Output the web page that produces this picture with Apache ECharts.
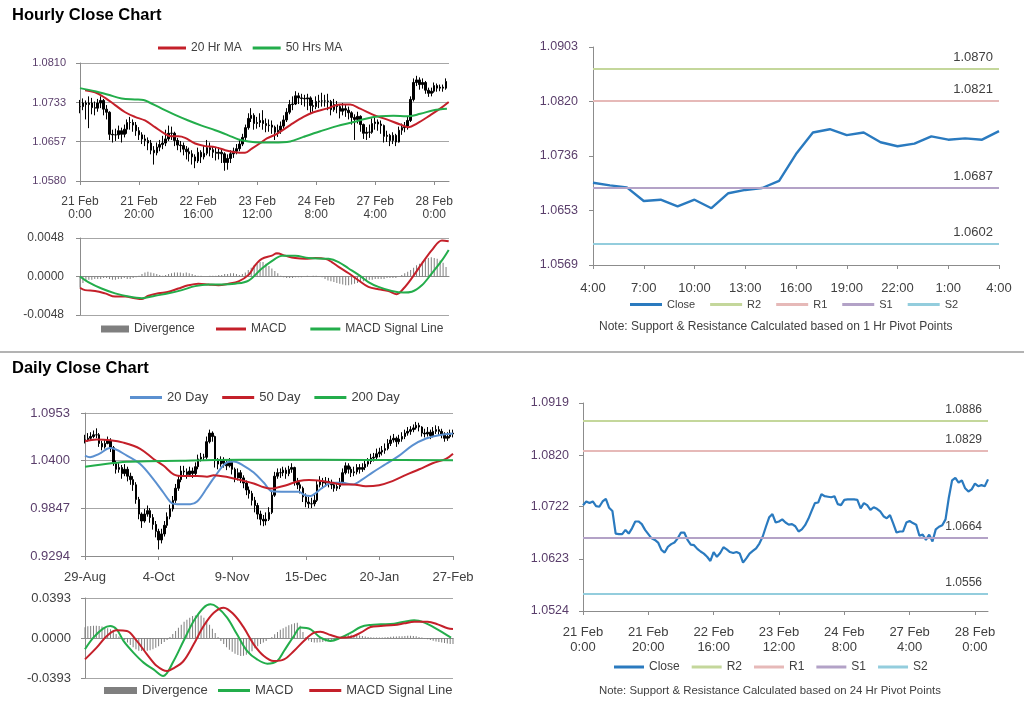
<!DOCTYPE html>
<html><head><meta charset="utf-8">
<script src="https://cdn.jsdelivr.net/npm/echarts@6/dist/echarts.min.js"></script>
<style>html,body{margin:0;padding:0;background:#fff}#c{width:1024px;height:706px}</style>
</head><body><div id="c"></div><script>
// ---------------- DATA ----------------
// Hourly (21 Feb 0:00 .. 28 Feb 4:00, trading hours), index = hour number
const hourTicks = ['21 Feb\n0:00','21 Feb\n20:00','22 Feb\n16:00','23 Feb\n12:00','24 Feb\n8:00','27 Feb\n4:00','28 Feb\n0:00'];
const hClose = [
1.0725,1.0732,1.0729,1.0732,1.0723,1.0722,1.0732,1.0737,1.0720,1.0714,
1.0671,1.0670,1.0670,1.0678,1.0671,1.0681,1.0694,1.0694,1.0689,1.0678,
1.0670,1.0662,1.0659,1.0654,1.0640,1.0635,1.0646,1.0651,1.0654,1.0662,
1.0673,1.0673,1.0659,1.0650,1.0649,1.0642,1.0637,1.0633,1.0627,1.0619,
1.0636,1.0627,1.0634,1.0645,1.0641,1.0636,1.0634,1.0636,1.0633,1.0616,
1.0624,1.0633,1.0638,1.0643,1.0652,1.0665,1.0684,1.0702,1.0708,1.0692,
1.0694,1.0698,1.0692,1.0688,1.0689,1.0685,1.0675,1.0679,1.0687,1.0699,
1.0714,1.0729,1.0730,1.0746,1.0742,1.0741,1.0740,1.0742,1.0727,1.0725,
1.0735,1.0736,1.0736,1.0736,1.0735,1.0719,1.0729,1.0725,1.0716,1.0721,
1.0718,1.0713,1.0704,1.0700,1.0706,1.0690,1.0673,1.0675,1.0675,1.0692,
1.0695,1.0691,1.0688,1.0667,1.0669,1.0659,1.0669,1.0656,1.0679,1.0684,
1.0687,1.0698,1.0739,1.0772,1.0777,1.0768,1.0772,1.0757,1.0751,1.0755,
1.0766,1.0761,1.0763,1.0761,1.0774];
const hHigh = [
1.0738,1.0741,1.0737,1.0745,1.0742,1.0735,1.0740,1.0745,1.0740,1.0728,
1.0716,1.0680,1.0682,1.0688,1.0684,1.0690,1.0700,1.0705,1.0700,1.0695,
1.0685,1.0675,1.0670,1.0665,1.0660,1.0648,1.0655,1.0660,1.0668,1.0680,
1.0688,1.0686,1.0676,1.0664,1.0658,1.0655,1.0648,1.0645,1.0640,1.0632,
1.0645,1.0640,1.0648,1.0660,1.0655,1.0648,1.0645,1.0646,1.0642,1.0636,
1.0632,1.0640,1.0645,1.0652,1.0660,1.0672,1.0690,1.0712,1.0722,1.0712,
1.0705,1.0712,1.0718,1.0702,1.0700,1.0698,1.0688,1.0690,1.0696,1.0708,
1.0722,1.0738,1.0745,1.0755,1.0752,1.0750,1.0748,1.0750,1.0745,1.0738,
1.0745,1.0748,1.0752,1.0748,1.0750,1.0738,1.0740,1.0736,1.0728,1.0732,
1.0728,1.0725,1.0716,1.0710,1.0715,1.0708,1.0692,1.0685,1.0690,1.0702,
1.0705,1.0700,1.0698,1.0690,1.0678,1.0672,1.0675,1.0672,1.0686,1.0692,
1.0695,1.0705,1.0745,1.0780,1.0785,1.0782,1.0780,1.0775,1.0762,1.0762,
1.0772,1.0770,1.0768,1.0768,1.0780];
const hLow = [
1.0712,1.0718,1.0700,1.0683,1.0710,1.0708,1.0715,1.0722,1.0708,1.0700,
1.0660,1.0655,1.0658,1.0662,1.0655,1.0665,1.0672,1.0680,1.0676,1.0668,
1.0660,1.0652,1.0648,1.0640,1.0632,1.0612,1.0630,1.0638,1.0642,1.0648,
1.0658,1.0660,1.0648,1.0640,1.0636,1.0630,1.0622,1.0618,1.0612,1.0605,
1.0615,1.0615,1.0622,1.0630,1.0628,1.0625,1.0620,1.0622,1.0615,1.0600,
1.0602,1.0615,1.0625,1.0632,1.0638,1.0648,1.0660,1.0680,1.0695,1.0680,
1.0682,1.0685,1.0680,1.0675,1.0676,1.0672,1.0660,1.0666,1.0672,1.0682,
1.0695,1.0710,1.0718,1.0728,1.0730,1.0728,1.0725,1.0718,1.0712,1.0715,
1.0720,1.0722,1.0725,1.0725,1.0718,1.0708,1.0715,1.0712,1.0702,1.0708,
1.0705,1.0700,1.0690,1.0660,1.0692,1.0676,1.0662,1.0660,1.0664,1.0672,
1.0680,1.0678,1.0672,1.0655,1.0656,1.0648,1.0652,1.0648,1.0655,1.0670,
1.0675,1.0680,1.0695,1.0735,1.0765,1.0758,1.0760,1.0750,1.0744,1.0745,
1.0752,1.0754,1.0755,1.0754,1.0758];
const ma20h = [[1.7,1.0757],[5.1,1.0753],[8.5,1.0742],[11.9,1.0728],[15.3,1.0714],[18.6,1.0705],[22,1.0698],[25.4,1.0685],[28.8,1.0672],[31,1.0667],[33.3,1.0667],[35.6,1.0664],[39,1.0653],[42.4,1.0648],[45.8,1.0646],[49.2,1.0640],[52.5,1.0636],[55.9,1.0635],[58.2,1.0643],[61.6,1.0656],[63.3,1.0663],[66.7,1.0672],[71.2,1.0689],[75.7,1.0705],[79.1,1.0714],[83.6,1.0721],[88.1,1.0729],[91.5,1.0729],[94.9,1.0721],[99.4,1.0709],[103.9,1.0700],[108.5,1.0690],[111.3,1.0685],[114.1,1.0692],[118.6,1.0708],[122,1.0721],[124.9,1.0734]];
const ma50h = [[0,1.0761],[5.1,1.0755],[9.6,1.0748],[14.1,1.0741],[18.6,1.0739],[21.5,1.0738],[23.2,1.0734],[27.7,1.0721],[32.2,1.0709],[36.7,1.0698],[41.2,1.0688],[45.8,1.0679],[50.3,1.0669],[53.7,1.0661],[57.1,1.0657],[61,1.0655],[65.5,1.0655],[71.2,1.0657],[75.7,1.0666],[81.4,1.0677],[87,1.0687],[92.7,1.0695],[97.2,1.0702],[101.7,1.0706],[106.2,1.0707],[110.7,1.0706],[115.3,1.0711],[119.8,1.0718],[124.3,1.0721]];
const hDiv = [
-0.0014,-0.0008,-0.0006,-0.0004,-0.0004,-0.0003,-0.0003,-0.0003,-0.0002,-0.0002,
-0.0003,-0.0004,-0.0004,-0.0003,-0.0003,-0.0002,-0.0003,-0.0003,-0.0002,-0.0001,
0.0001,0.0003,0.0005,0.0006,0.0005,0.0004,0.0003,0.0002,0.0001,0.0002,
0.0003,0.0004,0.0005,0.0005,0.0005,0.0004,0.0005,0.0004,0.0003,0.0002,
0.0001,0.0001,0.0000,0.0000,0.0001,0.0001,0.0001,0.0002,0.0002,0.0003,
0.0003,0.0004,0.0004,0.0003,0.0002,0.0003,0.0005,0.0008,0.0011,0.0014,
0.0016,0.0018,0.0018,0.0016,0.0013,0.0010,0.0007,0.0004,0.0001,-0.0001,
-0.0002,-0.0002,-0.0002,-0.0001,-0.0001,-0.0001,0.0000,0.0001,0.0000,0.0001,
0.0001,0.0000,-0.0001,-0.0003,-0.0005,-0.0006,-0.0007,-0.0008,-0.0009,-0.0010,
-0.0011,-0.0011,-0.0010,-0.0009,-0.0008,-0.0007,-0.0006,-0.0005,-0.0004,-0.0004,
-0.0003,-0.0003,-0.0003,-0.0003,-0.0002,-0.0002,-0.0002,-0.0002,0.0000,0.0002,
0.0004,0.0006,0.0008,0.0011,0.0014,0.0016,0.0019,0.0021,0.0023,0.0024,
0.0023,0.0022,0.0020,0.0017,0.0012];
const macdH = [[0,-0.0014],[1.7,-0.0017],[5.1,-0.0018],[8.5,-0.0021],[11.9,-0.0025],[15.3,-0.0025],[18.6,-0.0027],[21,-0.0028],[23.2,-0.0024],[26.6,-0.0021],[30,-0.0019],[33.3,-0.0015],[36.7,-0.0011],[40.1,-0.0009],[43.5,-0.0010],[46.9,-0.0011],[50.3,-0.0009],[53.7,-0.0006],[57.1,0.0002],[59.3,0.0014],[61.6,0.0022],[65,0.0026],[66.7,0.0029],[69.5,0.0026],[72.9,0.0023],[76.3,0.0022],[79.7,0.0023],[83.1,0.0022],[85.3,0.0018],[87.6,0.0012],[91,0.0004],[94.4,-0.0005],[97.7,-0.0013],[101.1,-0.0016],[104.5,-0.0018],[107.3,-0.0022],[109.6,-0.0015],[112.4,-0.0002],[115.8,0.0016],[119.2,0.0033],[122.6,0.0045],[124.9,0.0044]];
const sigH = [[0,0.0000],[2.8,-0.0007],[7.3,-0.0015],[11.9,-0.0021],[16.4,-0.0025],[21,-0.0027],[25.4,-0.0024],[30,-0.0021],[34.5,-0.0017],[39,-0.0012],[43.5,-0.0010],[48,-0.0010],[52.5,-0.0009],[57.1,-0.0005],[61.6,0.0010],[66.1,0.0022],[68.4,0.0026],[72.9,0.0026],[77.4,0.0023],[84.2,0.0022],[87.6,0.0018],[91,0.0010],[94.4,0.0002],[97.7,-0.0007],[101.1,-0.0013],[105.6,-0.0018],[109.6,-0.0020],[112.4,-0.0019],[115.8,-0.0011],[119.2,0.0004],[122.6,0.0020],[124.9,0.0033]];
// Last 24 hours (27 Feb 4:00 .. 28 Feb 4:00) = hourly index 100..124
const last24Start = 100;
const last24Ticks = ['4:00','7:00','10:00','13:00','16:00','19:00','22:00','1:00','4:00'];
const pivotNames = ['R2','R1','S1','S2'];
const pivot1h = [1.0870, 1.0821, 1.0687, 1.0602];
const pivot24h = [1.0886, 1.0829, 1.0664, 1.0556];
// y tick labels
const yHourly = ['1.0580','1.0657','1.0733','1.0810'];
const yMacdH = ['-0.0048','0.0000','0.0048'];
const yLast24 = ['1.0569','1.0653','1.0736','1.0820','1.0903'];
const yDaily = ['0.9294','0.9847','1.0400','1.0953'];
const yMacdD = ['-0.0393','0.0000','0.0393'];
const yHourlyBR = ['1.0524','1.0623','1.0722','1.0820','1.0919'];

// Daily (29-Aug .. 27-Feb, weekdays), index = trading day number
const dayTicks = ['29-Aug','4-Oct','9-Nov','15-Dec','20-Jan','27-Feb'];
const dClose = [
1.0640,1.0660,1.0680,1.0700,1.0700,1.0600,1.0560,1.0600,1.0630,1.0550,
1.0380,1.0300,1.0320,1.0250,1.0300,1.0220,1.0180,1.0120,0.9950,0.9780,
0.9700,0.9780,0.9820,0.9740,0.9660,0.9580,0.9480,0.9550,0.9650,0.9750,
0.9840,0.9940,1.0080,1.0180,1.0280,1.0270,1.0240,1.0280,1.0250,1.0330,
1.0420,1.0440,1.0440,1.0620,1.0720,1.0680,1.0400,1.0360,1.0400,1.0370,
1.0340,1.0380,1.0300,1.0200,1.0260,1.0200,1.0140,1.0060,1.0020,0.9940,
0.9880,0.9780,0.9720,0.9700,0.9720,0.9800,1.0000,1.0220,1.0260,1.0260,
1.0290,1.0250,1.0300,1.0320,1.0160,1.0120,1.0080,0.9980,0.9920,0.9900,
0.9900,0.9940,1.0120,1.0160,1.0140,1.0160,1.0140,1.0120,1.0080,1.0100,
1.0150,1.0260,1.0340,1.0300,1.0260,1.0270,1.0320,1.0300,1.0320,1.0360,
1.0390,1.0430,1.0440,1.0480,1.0500,1.0520,1.0540,1.0600,1.0640,1.0660,
1.0620,1.0650,1.0680,1.0720,1.0740,1.0760,1.0780,1.0810,1.0790,1.0720,
1.0710,1.0730,1.0690,1.0740,1.0760,1.0740,1.0710,1.0660,1.0680,1.0720,1.0710];
const dHigh = [
1.0700,1.0720,1.0730,1.0750,1.0775,1.0720,1.0630,1.0650,1.0680,1.0660,
1.0570,1.0400,1.0370,1.0350,1.0360,1.0330,1.0260,1.0220,1.0150,0.9980,
0.9800,0.9840,0.9880,0.9850,0.9780,0.9700,0.9610,0.9610,0.9700,0.9800,
0.9890,0.9990,1.0130,1.0230,1.0340,1.0340,1.0310,1.0330,1.0320,1.0380,
1.0470,1.0490,1.0480,1.0680,1.0760,1.0740,1.0690,1.0430,1.0450,1.0440,
1.0410,1.0430,1.0410,1.0320,1.0310,1.0290,1.0230,1.0170,1.0100,1.0050,
0.9980,0.9910,0.9820,0.9770,0.9800,0.9860,1.0050,1.0270,1.0310,1.0310,
1.0330,1.0320,1.0340,1.0370,1.0330,1.0200,1.0150,1.0100,1.0020,0.9980,
0.9970,1.0010,1.0170,1.0220,1.0200,1.0210,1.0200,1.0180,1.0150,1.0150,
1.0200,1.0310,1.0380,1.0370,1.0330,1.0330,1.0360,1.0360,1.0370,1.0400,
1.0430,1.0480,1.0490,1.0540,1.0550,1.0570,1.0600,1.0650,1.0690,1.0710,
1.0680,1.0700,1.0730,1.0760,1.0790,1.0800,1.0820,1.0850,1.0840,1.0800,
1.0770,1.0790,1.0760,1.0790,1.0810,1.0800,1.0770,1.0730,1.0730,1.0760,1.0760];
const dLow = [
1.0600,1.0620,1.0640,1.0660,1.0660,1.0560,1.0520,1.0540,1.0590,1.0500,
1.0340,1.0250,1.0260,1.0190,1.0220,1.0160,1.0120,1.0050,0.9900,0.9720,
0.9620,0.9680,0.9750,0.9680,0.9600,0.9510,0.9370,0.9440,0.9520,0.9620,
0.9720,0.9810,0.9910,1.0050,1.0150,1.0220,1.0190,1.0210,1.0200,1.0220,
1.0300,1.0390,1.0400,1.0420,1.0600,1.0620,1.0320,1.0300,1.0330,1.0320,
1.0290,1.0320,1.0240,1.0150,1.0170,1.0140,1.0080,1.0000,0.9960,0.9880,
0.9800,0.9720,0.9650,0.9640,0.9650,0.9700,0.9780,0.9980,1.0190,1.0200,
1.0220,1.0190,1.0220,1.0260,1.0110,1.0070,1.0020,0.9920,0.9860,0.9850,
0.9850,0.9870,0.9920,1.0090,1.0080,1.0100,1.0090,1.0070,1.0040,1.0050,
1.0070,1.0130,1.0240,1.0250,1.0210,1.0220,1.0240,1.0250,1.0270,1.0290,
1.0330,1.0360,1.0390,1.0410,1.0440,1.0460,1.0480,1.0520,1.0570,1.0610,
1.0560,1.0590,1.0620,1.0650,1.0690,1.0700,1.0730,1.0760,1.0740,1.0680,
1.0670,1.0680,1.0650,1.0670,1.0710,1.0700,1.0660,1.0620,1.0630,1.0660,1.0670];
const ma20d = [[0,1.0459],[1.8,1.0440],[5,1.0479],[8.9,1.0546],[14.8,1.0459],[19.5,1.0361],[24.2,1.0183],[27.8,1.0025],[30.7,0.9906],[32.5,0.9895],[37.2,0.9895],[39.6,0.9926],[43.1,1.0084],[46,1.0222],[50.2,1.0380],[52.5,1.0390],[56.1,1.0341],[59.6,1.0262],[63.2,1.0143],[66.1,1.0045],[70.8,1.0040],[75.6,1.0040],[77.3,1.0005],[79.7,0.9990],[81.5,1.0025],[83.8,1.0084],[87.4,1.0143],[90.9,1.0143],[94.5,1.0124],[98,1.0183],[101.5,1.0262],[106.3,1.0361],[111,1.0459],[115.7,1.0578],[120.5,1.0657],[125.1,1.0696],[130,1.0716]];
const ma50d = [[0,1.0625],[4.1,1.0645],[8.9,1.0637],[13.6,1.0609],[19.5,1.0538],[24.2,1.0420],[27.8,1.0341],[31.3,1.0242],[34.8,1.0222],[39.6,1.0222],[43.1,1.0214],[45.5,1.0230],[47.8,1.0222],[51.4,1.0203],[54.9,1.0175],[59.6,1.0135],[63.2,1.0092],[65.5,1.0078],[67.3,1.0084],[70.8,1.0112],[75.6,1.0163],[79.1,1.0175],[83.8,1.0163],[87.4,1.0143],[90.9,1.0124],[94.5,1.0124],[99.2,1.0104],[103.9,1.0116],[108.6,1.0163],[113.4,1.0235],[118.1,1.0300],[122.8,1.0370],[127.5,1.0420],[130,1.0480]];
const ma200d = [[0,1.0329],[5.3,1.0353],[10,1.0372],[14.8,1.0388],[21.9,1.0392],[33.7,1.0400],[45.5,1.0408],[65.5,1.0412],[100,1.0408],[130,1.0404]];
const dDiv = [
0.0105,0.0115,0.0118,0.0120,0.0120,0.0118,0.0112,0.0105,0.0095,0.0085,
0.0065,0.0040,0.0015,0.0000,-0.0020,-0.0045,-0.0070,-0.0090,-0.0110,-0.0125,
-0.0128,-0.0128,-0.0125,-0.0120,-0.0110,-0.0095,-0.0080,-0.0060,-0.0040,-0.0020,
0.0010,0.0040,0.0070,0.0100,0.0130,0.0160,0.0180,0.0200,0.0215,0.0222,
0.0226,0.0220,0.0200,0.0170,0.0130,0.0090,0.0050,0.0010,-0.0030,-0.0060,
-0.0090,-0.0115,-0.0135,-0.0155,-0.0168,-0.0177,-0.0175,-0.0165,-0.0150,-0.0130,
-0.0100,-0.0080,-0.0060,-0.0045,-0.0030,-0.0010,0.0010,0.0036,0.0060,0.0080,
0.0095,0.0110,0.0125,0.0134,0.0145,0.0150,0.0120,0.0060,0.0010,-0.0025,
-0.0040,-0.0045,-0.0045,-0.0042,-0.0040,-0.0035,-0.0030,-0.0025,-0.0018,-0.0010,
0.0000,0.0015,0.0025,0.0030,0.0032,0.0030,0.0028,0.0025,0.0020,0.0015,
0.0010,0.0008,0.0006,0.0005,0.0005,0.0006,0.0008,0.0010,0.0012,0.0014,
0.0015,0.0016,0.0018,0.0020,0.0022,0.0022,0.0020,0.0016,0.0010,0.0004,
-0.0005,-0.0012,-0.0020,-0.0028,-0.0035,-0.0040,-0.0045,-0.0050,-0.0055,-0.0058,-0.0060];
const macdD = [[0,-0.0111],[2.95,0.0003],[6.5,0.0095],[8.9,0.0118],[11.2,0.0085],[13.6,-0.0029],[17.1,-0.0144],[20.7,-0.0242],[24.2,-0.0308],[27.6,-0.0373],[31.3,-0.0226],[34.8,-0.0029],[38.4,0.0167],[41.9,0.0298],[44.3,0.0331],[46.6,0.0305],[50.2,0.0200],[53.7,0.0036],[57.3,-0.0128],[60.8,-0.0210],[64.4,-0.0252],[67.9,-0.0226],[70.3,-0.0128],[73.8,0.0020],[76.2,0.0102],[79.7,0.0085],[83.2,0.0003],[86.8,-0.0029],[90.3,0.0003],[93.9,0.0052],[97.4,0.0108],[100.9,0.0128],[104.5,0.0134],[109.2,0.0141],[112.8,0.0160],[116.3,0.0174],[119.9,0.0151],[123.4,0.0102],[127,0.0043],[129.3,0.0003]];
const sigD = [[0,-0.0210],[4.1,-0.0095],[7.7,0.0020],[11.2,0.0075],[14.8,0.0069],[18.3,-0.0029],[21.9,-0.0160],[25.4,-0.0275],[29,-0.0324],[31.3,-0.0298],[34.8,-0.0226],[38.4,-0.0062],[41.9,0.0118],[45.5,0.0249],[49,0.0298],[52.5,0.0233],[56.1,0.0102],[59.6,-0.0062],[63.2,-0.0177],[66.7,-0.0226],[70.3,-0.0210],[73.8,-0.0128],[77.3,-0.0029],[80.9,0.0052],[83.2,0.0062],[86.8,0.0029],[90.3,0.0003],[93.9,0.0010],[97.4,0.0052],[100.9,0.0108],[104.5,0.0118],[109.2,0.0128],[112.8,0.0144],[116.3,0.0160],[121,0.0160],[124.6,0.0134],[128.1,0.0095],[130,0.0088]];

// ---------------- STYLE ----------------
const FONT = '"Liberation Sans", Arial, sans-serif';
const AX = '#8c8c8c', GRIDC = '#a6a6a6', TXT = '#404040', YTXT = '#5a3e6b';
const RED = '#c4202a', GREEN = '#23ad4b', BLUE20 = '#5b90d0', CLOSE = '#2a7abf', DIVC = '#7f7f7f';
const PIVC = ['#c4d79b', '#e6b9b8', '#b3a2c7', '#93cddd'];

function yAxisCfg(grid, labels, o) {
  const nums = labels.map(Number);
  const min = nums[0], max = nums[nums.length - 1];
  const interval = (max - min) / (nums.length - 1);
  return {
    type: 'value', gridIndex: grid, min: min, max: max, interval: interval,
    axisLine: { show: true, lineStyle: { color: AX } },
    axisTick: { show: true, length: 4, lineStyle: { color: AX }, customValues: nums },
    axisLabel: {
      customValues: nums, margin: o.margin, color: o.color, fontSize: o.fontSize, fontFamily: FONT,
      formatter: function (v) {
        let b = '', d = Infinity;
        nums.forEach(function (n, k) { const e = Math.abs(n - v); if (e < d) { d = e; b = labels[k]; } });
        return d < interval / 4 ? b : '';
      }
    },
    splitLine: { show: !!o.grid, lineStyle: { color: GRIDC, width: 1 } }
  };
}
function xAxisCfg(grid, max, step, labels, o) {
  const pos = labels ? labels.map(function (_, i) { return i * step; }) : [];
  return {
    type: 'value', gridIndex: grid, min: 0, max: max, interval: step,
    axisLine: { show: true, onZero: true, lineStyle: { color: AX } },
    axisTick: { show: !!labels, length: 4, lineStyle: { color: AX }, customValues: pos },
    axisLabel: labels ? {
      customValues: pos, margin: o.margin, color: TXT, fontSize: o.fontSize, lineHeight: o.lineHeight, fontFamily: FONT,
      formatter: function (v) { const i = Math.round(v / step); return (Math.abs(v - i * step) < 0.01 && labels[i] !== undefined) ? labels[i] : ''; }
    } : { show: false },
    splitLine: { show: false }
  };
}
function lineS(name, data, color, xi, width, smooth) {
  return { type: 'line', name: name, xAxisIndex: xi, yAxisIndex: xi, data: data, showSymbol: false, symbol: 'none',
    smooth: smooth === undefined ? 0.35 : smooth, lineStyle: { color: color, width: width || 2 }, itemStyle: { color: color }, silent: true, z: 3 };
}
function pivotS(name, val, color, xi, fs) {
  return { type: 'line', name: name, xAxisIndex: xi, yAxisIndex: xi, data: [], itemStyle: { color: color }, lineStyle: { color: color, width: 2 },
    markLine: { silent: true, symbol: 'none', animation: false, precision: 4,
      lineStyle: { color: color, width: 2, type: 'solid' },
      label: { show: true, position: 'insideEndTop', color: TXT, fontSize: fs, fontFamily: FONT, distance: [6, 5],
        formatter: function (p) { return Number(p.value).toFixed(4); } },
      emphasis: { disabled: true },
      data: [{ yAxis: val }] } };
}
function legendCfg(names, left, top, o) {
  return { data: names, left: left, top: top, orient: 'horizontal', icon: 'rect', selectedMode: false,
    itemWidth: o.w, itemHeight: o.h, itemGap: o.gap, padding: 0,
    textStyle: { color: TXT, fontSize: o.fs, fontFamily: FONT },
    formatter: function (n) { return n.replace('#d', ''); } };
}

// ---------------- BUILD ----------------
const hCandles = hClose.map(function (c, i) { return [i, i ? hClose[i - 1] : c, c, hLow[i], hHigh[i]]; });
const dCandles = dClose.map(function (c, i) { return [i, i ? dClose[i - 1] : c, c, dLow[i], dHigh[i]]; });
const last24 = hClose.slice(last24Start).map(function (v, i) { return [i, v]; });
const hCloseXY = hClose.map(function (v, i) { return [i, v]; });

const series = [
  { type: 'candlestick', name: 'hOHLC', xAxisIndex: 0, yAxisIndex: 0, data: hCandles, encode: { x: 0, y: [1, 2, 3, 4] },
    barWidth: 2, silent: true, itemStyle: { color: '#000', color0: '#000', borderColor: '#000', borderColor0: '#000', borderWidth: 1 } },
  lineS('20 Hr MA', ma20h, RED, 0),
  lineS('50 Hrs MA', ma50h, GREEN, 0),
  { type: 'bar', name: 'Divergence', xAxisIndex: 1, yAxisIndex: 1, data: hDiv.map(function (v, i) { return [i, v]; }),
    barWidth: 1, silent: true, itemStyle: { color: DIVC } },
  lineS('MACD', macdH, RED, 1),
  lineS('MACD Signal Line', sigH, GREEN, 1)
];
pivotNames.forEach(function (n, k) { series.push(pivotS(n, pivot1h[k], PIVC[k], 2, 13)); });
series.push(lineS('Close', last24, CLOSE, 2, 2.4, false));
series.push(
  { type: 'candlestick', name: 'dOHLC', xAxisIndex: 3, yAxisIndex: 3, data: dCandles, encode: { x: 0, y: [1, 2, 3, 4] },
    barWidth: 2, silent: true, itemStyle: { color: '#000', color0: '#000', borderColor: '#000', borderColor0: '#000', borderWidth: 1 } },
  lineS('20 Day', ma20d, BLUE20, 3),
  lineS('50 Day', ma50d, RED, 3),
  lineS('200 Day', ma200d, GREEN, 3),
  { type: 'bar', name: 'Divergence#d', xAxisIndex: 4, yAxisIndex: 4, data: dDiv.map(function (v, i) { return [i, v]; }),
    barWidth: 1, silent: true, itemStyle: { color: DIVC } },
  lineS('MACD#d', macdD, GREEN, 4),
  lineS('MACD Signal Line#d', sigD, RED, 4)
);
pivotNames.forEach(function (n, k) { series.push(pivotS(n + '#d', pivot24h[k], PIVC[k], 5, 12)); });
series.push(lineS('Close#d', hCloseXY, CLOSE, 5, 2.2, false));

const option = {
  animation: false,
  backgroundColor: '#fff',
  textStyle: { fontFamily: FONT },
  title: [
    { text: 'Hourly Close Chart', left: 12, top: 7, padding: 0, textStyle: { fontSize: 16.5, fontWeight: 'bold', color: '#000', fontFamily: FONT } },
    { text: 'Daily Close Chart', left: 12, top: 360, padding: 0, textStyle: { fontSize: 16.5, fontWeight: 'bold', color: '#000', fontFamily: FONT } },
    { text: 'Note: Support & Resistance Calculated based on 1 Hr Pivot Points', left: 599, top: 321, padding: 0, textStyle: { fontSize: 12, fontWeight: 'normal', color: TXT, fontFamily: FONT } },
    { text: 'Note: Support & Resistance Calculated based on 24 Hr Pivot Points', left: 599, top: 685, padding: 0, textStyle: { fontSize: 11.4, fontWeight: 'normal', color: TXT, fontFamily: FONT } }
  ],
  graphic: [
    { type: 'line', shape: { x1: 0, y1: 352, x2: 1024, y2: 352 }, style: { stroke: '#9a9a9a', lineWidth: 1.5 }, silent: true }
  ],
  grid: [
    { left: 80, top: 63, width: 369, height: 118 },
    { left: 80, top: 238, width: 369, height: 77 },
    { left: 593, top: 47, width: 406, height: 218 },
    { left: 85, top: 413, width: 368, height: 143 },
    { left: 85, top: 598, width: 368, height: 80 },
    { left: 583, top: 403, width: 405, height: 208 }
  ],
  xAxis: [
    xAxisCfg(0, 125, 20, hourTicks, { margin: 14, fontSize: 12, lineHeight: 13 }),
    xAxisCfg(1, 125, 20, null, {}),
    xAxisCfg(2, 24, 3, last24Ticks, { margin: 16, fontSize: 13, lineHeight: 14 }),
    xAxisCfg(3, 130, 26, dayTicks, { margin: 14, fontSize: 13, lineHeight: 14 }),
    xAxisCfg(4, 130, 26, null, {}),
    xAxisCfg(5, 124, 20, hourTicks, { margin: 14, fontSize: 13, lineHeight: 15 })
  ],
  yAxis: [
    yAxisCfg(0, yHourly, { margin: 14, color: YTXT, fontSize: 11, grid: true }),
    yAxisCfg(1, yMacdH, { margin: 16, color: TXT, fontSize: 12, grid: true }),
    yAxisCfg(2, yLast24, { margin: 15, color: YTXT, fontSize: 12.5, grid: false }),
    yAxisCfg(3, yDaily, { margin: 15, color: YTXT, fontSize: 13, grid: true }),
    yAxisCfg(4, yMacdD, { margin: 14, color: TXT, fontSize: 13, grid: true }),
    yAxisCfg(5, yHourlyBR, { margin: 14, color: YTXT, fontSize: 12.5, grid: false })
  ],
  legend: [
    legendCfg(['20 Hr MA', '50 Hrs MA'], 158, 42, { w: 28, h: 3, gap: 11, fs: 12 }),
    legendCfg(['Divergence'], 101, 323, { w: 28, h: 7, gap: 10, fs: 12 }),
    legendCfg(['MACD', 'MACD Signal Line'], 216, 323, { w: 30, h: 3, gap: 24, fs: 12 }),
    legendCfg(['Close', 'R2', 'R1', 'S1', 'S2'], 630, 299, { w: 32, h: 3, gap: 15, fs: 11 }),
    legendCfg(['20 Day', '50 Day', '200 Day'], 130, 391, { w: 32, h: 3, gap: 14, fs: 13 }),
    legendCfg(['Divergence#d'], 104, 684, { w: 33, h: 7, gap: 10, fs: 13 }),
    legendCfg(['MACD#d', 'MACD Signal Line#d'], 218, 684, { w: 32, h: 3, gap: 16, fs: 13 }),
    legendCfg(['Close#d', 'R2#d', 'R1#d', 'S1#d', 'S2#d'], 614, 661, { w: 30, h: 3, gap: 12, fs: 12 })
  ],
  series: series
};
const chart = echarts.init(document.getElementById('c'), null, { renderer: 'canvas' });
chart.setOption(option);
</script></body></html>
